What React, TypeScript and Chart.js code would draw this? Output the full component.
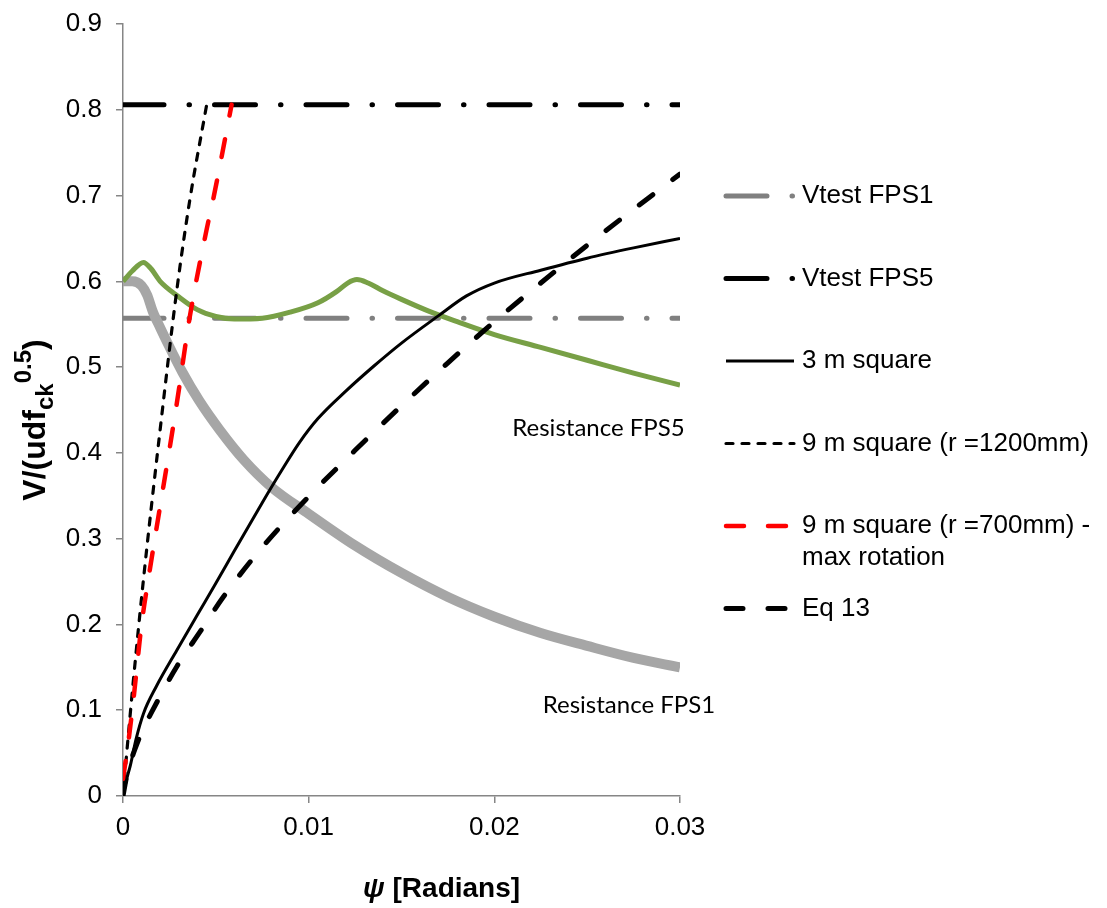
import React, { useEffect, useRef } from 'react';
import { Chart, registerables } from 'chart.js';

Chart.register(...registerables);

// Axis ticks
const X_TICKS = [0, 0.01, 0.02, 0.03];
const Y_TICKS = [0, 0.1, 0.2, 0.3, 0.4, 0.5, 0.6, 0.7, 0.8, 0.9];

// Test results (horizontal reference lines)
const VTEST_X = [0, 0.03];
const VTEST_FPS1 = 0.557;
const VTEST_FPS5 = 0.806;

// Resistance curve, FPS1
const RES_FPS1_X = [0, 0.0005, 0.001, 0.0013, 0.0016, 0.002, 0.0024, 0.0032, 0.0041, 0.0052, 0.0065, 0.008, 0.01, 0.0125, 0.015, 0.0175, 0.02, 0.0225, 0.025, 0.0275, 0.03];
const RES_FPS1_Y = [0.6, 0.6, 0.595, 0.584, 0.565, 0.546, 0.528, 0.494, 0.461, 0.427, 0.392, 0.36, 0.329, 0.292, 0.26, 0.232, 0.209, 0.19, 0.175, 0.161, 0.15];

// Resistance curve, FPS5
const RES_FPS5_X = [0, 0.0005, 0.0011, 0.0015, 0.002, 0.003, 0.004, 0.005, 0.006, 0.0075, 0.009, 0.0105, 0.0115, 0.0121, 0.0126, 0.0132, 0.014, 0.015, 0.0165, 0.018, 0.02, 0.0225, 0.025, 0.0275, 0.03];
const RES_FPS5_Y = [0.6, 0.612, 0.622, 0.615, 0.6, 0.582, 0.567, 0.559, 0.556, 0.557, 0.564, 0.575, 0.588, 0.598, 0.602, 0.598, 0.589, 0.579, 0.565, 0.553, 0.538, 0.523, 0.508, 0.493, 0.479];

// 3 m square
const SQ3_X = [0, 0.0002, 0.0004, 0.0007, 0.0011, 0.0018, 0.0029, 0.004, 0.005, 0.006, 0.0075, 0.0085, 0.0095, 0.0105, 0.012, 0.0135, 0.015, 0.017, 0.0185, 0.02, 0.0225, 0.025, 0.0275, 0.03];
const SQ3_Y = [0, 0.02, 0.036, 0.066, 0.096, 0.128, 0.17, 0.211, 0.248, 0.286, 0.342, 0.378, 0.412, 0.44, 0.472, 0.501, 0.528, 0.56, 0.583, 0.598, 0.613, 0.627, 0.639, 0.65];

// 9 m square, r = 1200 mm
const SQ9_R1200_X = [0, 0.0002, 0.00056, 0.0011, 0.002, 0.0029, 0.0036, 0.0045];
const SQ9_R1200_Y = [0, 0.05, 0.135, 0.252, 0.427, 0.59, 0.695, 0.805];

// 9 m square, r = 700 mm (max rotation)
const SQ9_R700_X = [0, 0.0003, 0.00056, 0.001, 0.00136, 0.0029, 0.0036, 0.0045, 0.0049, 0.00585];
const SQ9_R700_Y = [0.02, 0.065, 0.112, 0.2, 0.252, 0.458, 0.559, 0.66, 0.7, 0.806];

// Eq 13
const EQ13_X = [0, 0.0002, 0.0009, 0.0016, 0.0029, 0.0042, 0.0054, 0.0075, 0.01, 0.0125, 0.015, 0.0175, 0.02, 0.0225, 0.025, 0.0275, 0.03];
const EQ13_Y = [0, 0.023, 0.069, 0.1, 0.151, 0.193, 0.232, 0.29, 0.349, 0.403, 0.455, 0.505, 0.553, 0.598, 0.642, 0.684, 0.725];

// Legend entries (label of the dataset, text lines shown)
const LEGEND_ENTRIES: { label: string; lines: string[] }[] = [
  { label: 'Vtest FPS1', lines: ['Vtest FPS1'] },
  { label: 'Vtest FPS5', lines: ['Vtest FPS5'] },
  { label: '3 m square', lines: ['3 m square'] },
  { label: '9 m square (r =1200mm)', lines: ['9 m square (r =1200mm)'] },
  { label: '9 m square (r =700mm) - max rotation', lines: ['9 m square (r =700mm) -', 'max rotation'] },
  { label: 'Eq 13', lines: ['Eq 13'] },
];

// In-plot curve labels, anchored in data coordinates
const CURVE_LABELS = [
  { text: 'Resistance FPS5', x: 0.02561, y: 0.429 },
  { text: 'Resistance FPS1', x: 0.02725, y: 0.106 },
];

const SANS = '"Liberation Sans", Arial, sans-serif';

const pts = (xs: number[], ys: number[]) => xs.map((x, i) => ({ x, y: ys[i] }));
const flat = (xs: number[], v: number) => xs.map((x) => ({ x, y: v }));

const overlayPlugin = {
  id: 'overlay',
  afterDraw(chart: any) {
    const { ctx, chartArea, scales } = chart;
    const xs = scales.x;
    const ys = scales.y;
    ctx.save();

    // curve labels
    ctx.fillStyle = '#000';
    ctx.font = '24px Lato, "Open Sans", sans-serif';
    ctx.textAlign = 'center';
    ctx.textBaseline = 'middle';
    for (const l of CURVE_LABELS) {
      ctx.fillText(l.text, xs.getPixelForValue(l.x), ys.getPixelForValue(l.y));
    }

    // legend
    const lx0 = chartArea.right + 46;
    const lx1 = chartArea.right + 114;
    const tx = chartArea.right + 122;
    const rowTop = chartArea.top + 172;
    const rowGap = 82.5;
    ctx.textAlign = 'left';
    ctx.textBaseline = 'middle';
    ctx.font = `26px ${SANS}`;
    LEGEND_ENTRIES.forEach((e, i) => {
      const ds = chart.data.datasets.find((d: any) => d.label === e.label);
      const y = rowTop + i * rowGap;
      if (ds) {
        ctx.save();
        ctx.strokeStyle = ds.borderColor;
        ctx.lineWidth = ds.borderWidth;
        ctx.lineCap = ds.borderCapStyle || 'butt';
        ctx.setLineDash(ds.borderDash || []);
        ctx.beginPath();
        ctx.moveTo(lx0, y);
        ctx.lineTo(lx1, y);
        ctx.stroke();
        ctx.restore();
      }
      e.lines.forEach((t, j) => {
        ctx.fillStyle = '#000';
        ctx.fillText(t, tx, y + j * 31.7);
      });
    });

    // x-axis title: italic psi + " [Radians]"
    {
      const f1 = `italic bold 28px ${SANS}`;
      const f2 = `bold 28px ${SANS}`;
      const t1 = '\u03C8';
      const t2 = ' [Radians]';
      ctx.font = f1;
      const w1 = ctx.measureText(t1).width;
      ctx.font = f2;
      const w2 = ctx.measureText(t2).width;
      const cx = chartArea.left + (chartArea.right - chartArea.left) * 0.572;
      const by = chartArea.bottom + 101;
      let x = cx - (w1 + w2) / 2;
      ctx.textBaseline = 'alphabetic';
      ctx.textAlign = 'left';
      ctx.font = f1;
      ctx.fillText(t1, x, by);
      x += w1;
      ctx.font = f2;
      ctx.fillText(t2, x, by);
    }

    // y-axis title: V/(udf_ck^0.5)
    {
      const parts = [
        { t: 'V/(udf', size: 32, dy: 0 },
        { t: 'ck', size: 24, dy: 8 },
        { t: '0.5', size: 24, dy: -14 },
        { t: ')', size: 32, dy: 0 },
      ];
      let total = 0;
      const widths = parts.map((p) => {
        ctx.font = `bold ${p.size}px ${SANS}`;
        const w = ctx.measureText(p.t).width;
        total += w;
        return w;
      });
      const cy = (chartArea.top + chartArea.bottom) / 2 + 10;
      ctx.translate(45, cy);
      ctx.rotate(-Math.PI / 2);
      ctx.textBaseline = 'alphabetic';
      ctx.textAlign = 'left';
      let x = -total / 2;
      parts.forEach((p, i) => {
        ctx.font = `bold ${p.size}px ${SANS}`;
        ctx.fillText(p.t, x, p.dy);
        x += widths[i];
      });
    }
    ctx.restore();
  },
};

export default function App() {
  const ref = useRef<HTMLCanvasElement>(null);

  useEffect(() => {
    const canvas = ref.current;
    if (!canvas) return;

    const common = { pointRadius: 0, fill: false, cubicInterpolationMode: 'monotone' as const };

    // first dataset is painted on top
    const datasets: any[] = [
      { ...common, label: '9 m square (r =700mm) - max rotation', data: pts(SQ9_R700_X, SQ9_R700_Y), borderColor: '#ff0000', borderWidth: 4.5, borderDash: [18, 24], borderCapStyle: 'round' },
      { ...common, label: '9 m square (r =1200mm)', data: pts(SQ9_R1200_X, SQ9_R1200_Y), borderColor: '#000000', borderWidth: 3.2, borderDash: [7, 9], borderCapStyle: 'round' },
      { ...common, label: '3 m square', data: pts(SQ3_X, SQ3_Y), borderColor: '#000000', borderWidth: 3, borderCapStyle: 'butt' },
      { ...common, label: 'Eq 13', data: pts(EQ13_X, EQ13_Y), borderColor: '#000000', borderWidth: 5, borderDash: [17, 25], borderCapStyle: 'round' },
      { ...common, label: 'Resistance FPS5', data: pts(RES_FPS5_X, RES_FPS5_Y), borderColor: '#78a046', borderWidth: 5, borderCapStyle: 'butt' },
      { ...common, label: 'Resistance FPS1', data: pts(RES_FPS1_X, RES_FPS1_Y), borderColor: '#a6a6a6', borderWidth: 10, borderCapStyle: 'butt' },
      { ...common, label: 'Vtest FPS5', data: flat(VTEST_X, VTEST_FPS5), borderColor: '#000000', borderWidth: 5, borderDash: [41, 25, 0.5, 25], borderCapStyle: 'round' },
      { ...common, label: 'Vtest FPS1', data: flat(VTEST_X, VTEST_FPS1), borderColor: '#808080', borderWidth: 5, borderDash: [41, 25, 0.5, 25], borderCapStyle: 'round' },
    ];

    const axisColor = '#868686';
    const fmt = (v: number) => String(Number(Number(v).toFixed(3)));

    const chart = new Chart(canvas, {
      type: 'line',
      data: { datasets },
      options: {
        animation: false,
        responsive: false,
        devicePixelRatio: 1,
        layout: { padding: { top: 24, right: 427, left: 0, bottom: 0 } },
        plugins: { legend: { display: false }, tooltip: { enabled: false } },
        scales: {
          x: {
            type: 'linear',
            min: 0,
            max: 0.03,
            afterBuildTicks: (s: any) => {
              s.ticks = X_TICKS.map((value) => ({ value }));
            },
            afterFit: (s: any) => {
              s.height = 112;
              s.paddingLeft = 0;
              s.paddingRight = 0;
            },
            grid: { drawOnChartArea: false, drawTicks: true, tickLength: 7, color: axisColor, lineWidth: 1.5 },
            border: { display: true, color: axisColor, width: 1.5 },
            ticks: { color: '#000', padding: 9, font: { family: SANS, size: 26 }, callback: (v: any) => fmt(v), maxRotation: 0 },
          },
          y: {
            type: 'linear',
            min: 0,
            max: 0.9,
            afterBuildTicks: (s: any) => {
              s.ticks = Y_TICKS.map((value) => ({ value }));
            },
            afterFit: (s: any) => {
              s.width = 123;
              s.paddingTop = 0;
              s.paddingBottom = 0;
            },
            grid: { drawOnChartArea: false, drawTicks: true, tickLength: 7, color: axisColor, lineWidth: 1.5 },
            border: { display: true, color: axisColor, width: 1.5 },
            ticks: { color: '#000', padding: 14, font: { family: SANS, size: 26 }, callback: (v: any) => fmt(v) },
          },
        },
      },
      plugins: [overlayPlugin],
    });

    return () => chart.destroy();
  }, []);

  return (
    <div style={{ position: 'absolute', left: 0, top: 0, width: 1107, height: 908, background: '#fff' }}>
      <canvas ref={ref} width={1107} height={908} style={{ display: 'block', width: 1107, height: 908 }} />
    </div>
  );
}
